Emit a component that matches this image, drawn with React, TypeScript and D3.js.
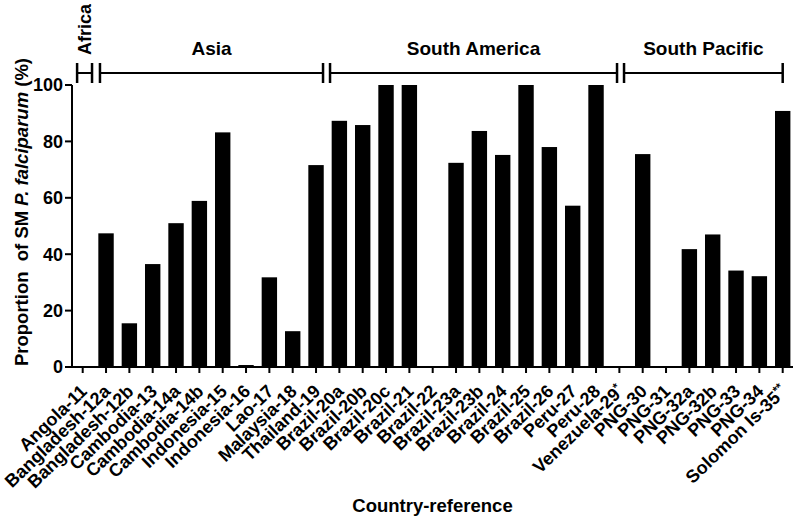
import React from "react";
import * as d3 from "d3";

const categories = [
  "Angola-11", "Bangladesh-12a", "Bangladesh-12b", "Cambodia-13", "Cambodia-14a", "Cambodia-14b",
  "Indonesia-15", "Indonesia-16", "Lao-17", "Malaysia-18", "Thailand-19",
  "Brazil-20a", "Brazil-20b", "Brazil-20c", "Brazil-21", "Brazil-22", "Brazil-23a", "Brazil-23b",
  "Brazil-24", "Brazil-25", "Brazil-26", "Peru-27", "Peru-28", "Venezuela-29*",
  "PNG-30", "PNG-31", "PNG-32a", "PNG-32b", "PNG-33", "PNG-34", "Solomon Is-35**",
];
const values = [
  0, 47.4, 15.5, 36.5, 51.0, 58.9,
  83.2, 0.7, 31.8, 12.7, 71.6,
  87.3, 85.8, 100, 100, 0, 72.4, 83.7,
  75.2, 100, 78.0, 57.2, 100, 0,
  75.5, 0, 41.8, 47.0, 34.2, 32.2, 90.8,
];
const yTicks = [0, 20, 40, 60, 80, 100];
const groupNames = ["Africa", "Asia", "South America", "South Pacific"];
// bracket extents in category-index units
const groupFrom = [-0.24, 0.74, 10.6, 23.2];
const groupTo = [0.4, 10.3, 22.9, 30.0];

const FONT = "'Liberation Sans', Arial, sans-serif";

export default function App() {
  const W = 799, H = 521;
  const x = d3.scalePoint<string>().domain(categories).range([82.7, 782.7]);
  const step = x.step();
  const xi = d3.scaleLinear().domain([0, categories.length - 1]).range([82.7, 782.7]);
  const y = d3.scaleLinear().domain([0, 100]).range([367, 85]);
  const barW = step * 0.66;
  const axisX = 72;
  const axisEnd = 793;
  const bracketY = 73;

  const renderLabel = (c: string) => {
    const m = c.match(/^(.*?)(\*+)$/);
    if (!m) return c;
    return (
      <>
        {m[1]}
        <tspan fontSize={12} dy="-0.5em">{m[2]}</tspan>
      </>
    );
  };

  return (
    <svg width={W} height={H} style={{ position: "absolute", left: 0, top: 0, background: "#fff" }}
      fontFamily={FONT} fontWeight="bold">
      {/* bars */}
      {categories.map((c, i) => (
        values[i] > 0 ? (
          <rect key={c} x={(x(c) as number) - barW / 2} y={y(values[i])}
            width={barW} height={y(0) - y(values[i])} fill="#000" />
        ) : null
      ))}
      {/* y axis */}
      <line x1={axisX} x2={axisX} y1={y(100)} y2={y(0) + 1} stroke="#000" strokeWidth={2} />
      {yTicks.map((t) => (
        <g key={t}>
          <line x1={axisX - 7} x2={axisX} y1={y(t)} y2={y(t)} stroke="#000" strokeWidth={2} />
          <text x={axisX - 9} y={y(t)} dy="0.36em" textAnchor="end" fontSize={18}>{t}</text>
        </g>
      ))}
      {/* x axis */}
      <line x1={axisX - 1} x2={axisEnd} y1={y(0)} y2={y(0)} stroke="#000" strokeWidth={2} />
      {categories.map((c) => {
        const cx = x(c) as number;
        return (
          <g key={c}>
            <line x1={cx} x2={cx} y1={y(0)} y2={y(0) + 6} stroke="#000" strokeWidth={2} />
            <text transform={`translate(${cx + 1},${y(0) + 21}) rotate(-44)`} textAnchor="end"
              dy="0.35em" fontSize={18}>{renderLabel(c)}</text>
          </g>
        );
      })}
      {/* group brackets */}
      {groupNames.map((g, i) => {
        const x1 = xi(groupFrom[i]);
        const x2 = xi(groupTo[i]);
        const mid = (x1 + x2) / 2;
        return (
          <g key={g}>
            <line x1={x1} x2={x2} y1={bracketY} y2={bracketY} stroke="#000" strokeWidth={2} />
            <line x1={x1} x2={x1} y1={bracketY - 10} y2={bracketY + 10} stroke="#000" strokeWidth={2.5} />
            <line x1={x2} x2={x2} y1={bracketY - 10} y2={bracketY + 10} stroke="#000" strokeWidth={2.5} />
            {i === 0 ? (
              <text transform={`translate(${mid + 6},55) rotate(-90)`} textAnchor="start" fontSize={18}>{g}</text>
            ) : (
              <text x={mid} y={55} textAnchor="middle" fontSize={19}>{g}</text>
            )}
          </g>
        );
      })}
      {/* axis titles */}
      <text transform={`translate(28,212) rotate(-90)`} textAnchor="middle" fontSize={18.5}>
        Proportion{"\u00a0\u00a0"}of SM <tspan fontStyle="italic">P. falciparum</tspan> (%)
      </text>
      <text x={432.5} y={512} textAnchor="middle" fontSize={18.5}>Country-reference</text>
    </svg>
  );
}
